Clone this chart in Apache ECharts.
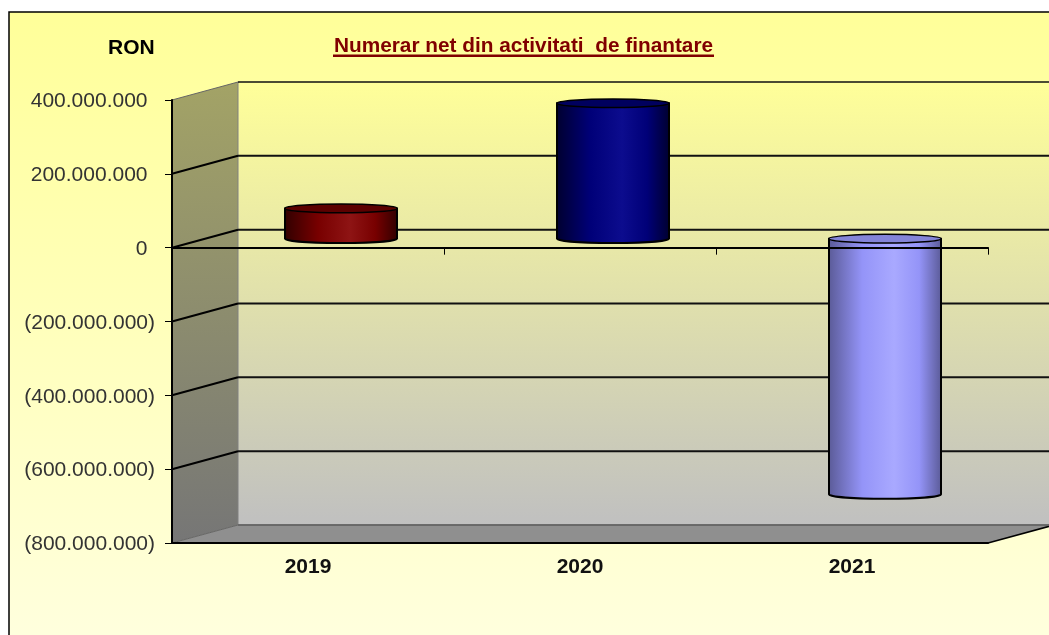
<!DOCTYPE html>
<html>
<head>
<meta charset="utf-8">
<style>
  html, body { margin: 0; padding: 0; background: #fff; overflow: hidden; }
  #main { width: 1049px; height: 635px; }
</style>
<script src="https://cdn.jsdelivr.net/npm/echarts@6/dist/echarts.min.js"></script>
</head>
<body>
<div id="main"></div>
<script>
var categories = ['2019', '2020', '2021'];
var values = [82000000, 367000000, -693000000];
var yTicks = [400000000, 200000000, 0, -200000000, -400000000, -600000000, -800000000];

var chartTitle = 'Numerar net din activitati  de finantare';
var unitLabel = 'RON';

// culori cilindri: margine, mijloc, lumina, capac
var barColors = [
  { edge: '#300000', mid: '#780000', light: '#8e1414', cap: '#5c0000' },
  { edge: '#00002e', mid: '#000078', light: '#0c0c8e', cap: '#00005e' },
  { edge: '#5a5a96', mid: '#9494f8', light: '#a9a9ff', cap: '#8484d8' }
];

// adancimea falsa 3D, in pixeli
var depthX = 66;
var depthY = 18;
var barWidth = 112;
var capRy = 4.3;

var font = '"Liberation Sans", Arial, sans-serif';

function formatRon(v) {
  var s = Math.abs(v).toString().replace(/\B(?=(\d{3})+$)/g, '.');
  return v < 0 ? '{n|(' + s + ')}' : '{p|' + s + '}';
}

function vGrad(top, bottom) {
  return new echarts.graphic.LinearGradient(0, 0, 0, 1, [
    { offset: 0, color: top },
    { offset: 1, color: bottom }
  ]);
}

// peretii si podeaua
function renderWalls(params, api) {
  var g = params.coordSys;
  var top = g.y, bottom = g.y + g.height, left = g.x, right = g.x + g.width;
  return {
    type: 'group',
    children: [
      {
        type: 'rect',
        shape: { x: left + depthX, y: top - depthY, width: g.width, height: g.height },
        style: { fill: vGrad('#ffff99', '#c0c0c0') }
      },
      {
        type: 'polygon',
        shape: { points: [[left, top], [left + depthX, top - depthY], [left + depthX, bottom - depthY], [left, bottom]] },
        style: { fill: vGrad('#a3a366', '#767676') }
      },
      {
        type: 'polygon',
        shape: { points: [[left, bottom], [left + depthX, bottom - depthY], [right + depthX, bottom - depthY], [right, bottom]] },
        style: { fill: '#8f8f8f' }
      },
      {
        type: 'line',
        shape: { x1: left + depthX, y1: top - depthY, x2: left + depthX, y2: bottom - depthY },
        style: { stroke: '#808080', lineWidth: 1 }
      },
      {
        type: 'line',
        shape: { x1: left + depthX, y1: bottom - depthY, x2: right + depthX, y2: bottom - depthY },
        style: { stroke: '#666', lineWidth: 1.5 }
      },
      {
        type: 'line',
        shape: { x1: right, y1: bottom, x2: right + depthX, y2: bottom - depthY },
        style: { stroke: '#000', lineWidth: 1.5 }
      }
    ]
  };
}

// liniile de grid pe peretele din spate
function renderGridLine(params, api) {
  var g = params.coordSys;
  var v = api.value(0);
  var y = api.coord([0, v])[1];
  var isEnd = v === yTicks[0] || v === yTicks[yTicks.length - 1];
  return {
    type: 'group',
    children: [
      {
        type: 'line',
        shape: { x1: g.x, y1: y, x2: g.x + depthX, y2: y - depthY },
        style: { stroke: isEnd ? '#666' : '#000', lineWidth: isEnd ? 1 : 2 }
      },
      {
        type: 'line',
        shape: { x1: g.x + depthX, y1: y - depthY, x2: g.x + g.width + depthX, y2: y - depthY },
        style: { stroke: isEnd && v < 0 ? '#666' : '#111', lineWidth: isEnd ? 1.5 : 2 }
      }
    ]
  };
}

function renderCylinder(params, api) {
  var i = api.value(0);
  var v = api.value(1);
  var c = barColors[i];
  var p0 = api.coord([i, 0]);
  var p1 = api.coord([i, v]);
  var cx = p0[0] + depthX / 2;
  var rx = barWidth / 2;
  var yTop = Math.min(p0[1], p1[1]) - depthY / 2;
  var yBot = Math.max(p0[1], p1[1]) - depthY / 2;
  var body = 'M' + (cx - rx) + ' ' + yTop +
    ' L' + (cx - rx) + ' ' + yBot +
    ' A' + rx + ' ' + capRy + ' 0 0 0 ' + (cx + rx) + ' ' + yBot +
    ' L' + (cx + rx) + ' ' + yTop + ' Z';
  return {
    type: 'group',
    children: [
      {
        type: 'path',
        shape: { pathData: body },
        style: {
          fill: new echarts.graphic.LinearGradient(0, 0, 1, 0, [
            { offset: 0, color: c.edge },
            { offset: 0.3, color: c.mid },
            { offset: 0.58, color: c.light },
            { offset: 0.8, color: c.mid },
            { offset: 1, color: c.edge }
          ]),
          stroke: '#000',
          lineWidth: 2
        }
      },
      {
        type: 'ellipse',
        shape: { cx: cx, cy: yTop, rx: rx, ry: capRy },
        style: { fill: c.cap, stroke: '#000', lineWidth: 1.5 }
      }
    ]
  };
}

var myChart = echarts.init(document.getElementById('main'));

var option = {
  animation: false,
  backgroundColor: '#fff',
  textStyle: { fontFamily: font },
  title: [
    {
      text: chartTitle,
      left: 334,
      top: 36,
      padding: 0,
      textStyle: { fontFamily: font, fontSize: 20.8, fontWeight: 'bold', color: '#800000' }
    },
    {
      text: unitLabel,
      left: 108,
      top: 38,
      padding: 0,
      textStyle: { fontFamily: font, fontSize: 21, fontWeight: 'bold', color: '#000' }
    }
  ],
  // cadrul si linia de sub titlu
  graphic: [
    {
      type: 'rect',
      z: -10,
      shape: { x: 9, y: 12, width: 1060, height: 640 },
      style: { fill: vGrad('#ffff99', '#ffffdf'), stroke: '#000', lineWidth: 1.5 }
    },
    {
      type: 'rect',
      z: 10,
      shape: { x: 333, y: 54.5, width: 381, height: 2.5 },
      style: { fill: '#800000' }
    }
  ],
  grid: { left: 172, top: 100, width: 816, height: 443 },
  xAxis: [
    {
      type: 'category',
      data: categories,
      z: 10,
      axisLine: { onZero: false, lineStyle: { color: '#000', width: 2 } },
      axisTick: { show: false },
      axisLabel: { margin: 14, fontFamily: font, fontSize: 21, fontWeight: 'bold', color: '#111' }
    },
    {
      type: 'category',
      position: 'bottom',
      data: categories,
      z: 10,
      axisLine: { onZero: true, lineStyle: { color: '#000', width: 2 } },
      axisTick: { show: true, length: 7, lineStyle: { color: '#000', width: 1 } },
      axisLabel: { show: false }
    }
  ],
  yAxis: {
    type: 'value',
    min: -800000000,
    max: 400000000,
    interval: 200000000,
    z: 10,
    axisLine: { show: true, onZero: false, lineStyle: { color: '#000', width: 2 } },
    axisTick: { show: true, length: 7, lineStyle: { color: '#000', width: 1 } },
    splitLine: { show: false },
    axisLabel: {
      margin: 17,
      fontFamily: font,
      fontSize: 21,
      color: '#333',
      formatter: formatRon,
      rich: {
        p: { fontFamily: font, fontSize: 21, color: '#333', padding: [3, 7.5, 0, 0] },
        n: { fontFamily: font, fontSize: 21, color: '#333', padding: [3, 0, 0, 0] }
      }
    }
  },
  series: [
    { type: 'custom', z: 1, silent: true, renderItem: renderWalls, data: [0] },
    { type: 'custom', z: 2, silent: true, renderItem: renderGridLine, data: yTicks.map(function (t) { return [t]; }), encode: { y: 0 } },
    {
      type: 'custom',
      z: 3,
      renderItem: renderCylinder,
      data: values.map(function (v, i) { return [i, v]; }),
      encode: { x: 0, y: 1 }
    }
  ]
};

myChart.setOption(option);
</script>
</body>
</html>
